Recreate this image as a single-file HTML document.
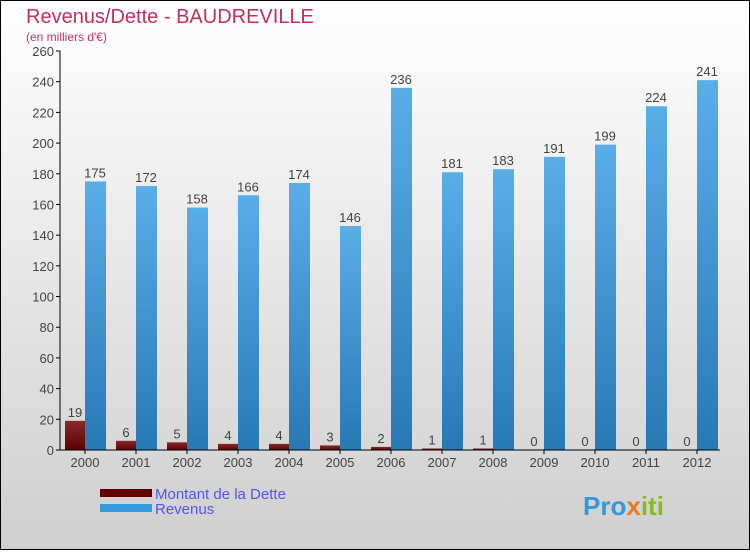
<!DOCTYPE html>
<html><head><meta charset="utf-8"><style>
body{margin:0;width:750px;height:550px;overflow:hidden;font-family:"Liberation Sans",sans-serif}
</style></head><body>
<svg id="c" width="750" height="550" xmlns="http://www.w3.org/2000/svg">
<defs>
<linearGradient id="bg" x1="0" y1="0" x2="0" y2="1"><stop offset="0" stop-color="#ffffff"/><stop offset="1" stop-color="#cfcfcf"/></linearGradient>
<linearGradient id="gb" x1="0" y1="0" x2="0" y2="1"><stop offset="0" stop-color="#5aaee8"/><stop offset="1" stop-color="#2878b4"/></linearGradient>
<linearGradient id="gr" x1="0" y1="0" x2="0" y2="1"><stop offset="0" stop-color="#8a2a2a"/><stop offset="1" stop-color="#5a0000"/></linearGradient>
</defs>
<rect x="0.5" y="0.5" width="749" height="549" fill="url(#bg)" stroke="#000"/>
<text x="26" y="23" font-size="20" fill="#c0305a">Revenus/Dette - BAUDREVILLE</text>
<text x="26" y="41" font-size="12" fill="#c0305a">(en milliers d'€)</text>
<g id="plot"></g>
<rect x="100" y="489" width="52" height="8" fill="#600000"/>
<rect x="100" y="504" width="52" height="8" fill="#3399dd"/>
<text x="155" y="499" font-size="15" fill="#5555ee">Montant de la Dette</text>
<text x="155" y="514" font-size="15" fill="#5555ee">Revenus</text>
<text x="583" y="515" font-size="26" font-weight="bold"><tspan fill="#3399dd">Pro</tspan><tspan fill="#ee7722">x</tspan><tspan fill="#88bb22">iti</tspan></text>
</svg>
<script>
const years=["2000","2001","2002","2003","2004","2005","2006","2007","2008","2009","2010","2011","2012"];
const dette=[19,6,5,4,4,3,2,1,1,0,0,0,0];
const revenus=[175,172,158,166,174,146,236,181,183,191,199,224,241];
const ticks=[0,20,40,60,80,100,120,140,160,180,200,220,240,260];
const NS="http://www.w3.org/2000/svg",g=document.getElementById('plot');
const y=v=>450-v*(399/260), xc=i=>85+i*51;
function mk(t,a){const e=document.createElementNS(NS,t);for(const k in a)e.setAttribute(k,a[k]);g.appendChild(e);return e;}
ticks.forEach(t=>{
 const l=mk('line',{x1:56,x2:60,y1:y(t),y2:y(t),stroke:'#000'});
 
 
 const tx=mk('text',{x:54,y:y(t)+5,'font-size':13,fill:'#444','text-anchor':'end'});tx.textContent=t;
 
 
});
years.forEach((yr,i)=>{
 const c=xc(i);
 const d=mk('rect',{x:c-20,y:y(dette[i]),width:20,height:450-y(dette[i]),fill:'url(#gr)'});
 
 
 const r=mk('rect',{x:c,y:y(revenus[i]),width:21,height:450-y(revenus[i]),fill:'url(#gb)'});
 
 
 const t1=mk('text',{x:c-10,y:y(dette[i])-4,'font-size':13,fill:'#444','text-anchor':'middle'});t1.textContent=dette[i];
 
 
 const t2=mk('text',{x:c+10,y:y(revenus[i])-4,'font-size':13,fill:'#444','text-anchor':'middle'});t2.textContent=revenus[i];
 
 
 const xl=mk('text',{x:c,y:467,'font-size':13,fill:'#444','text-anchor':'middle'});xl.textContent=yr;
 
 
 const xt=mk('line',{x1:c,x2:c,y1:450,y2:454,stroke:'#000'});
 
 
});
const ya=mk('line',{x1:60,x2:60,y1:y(260),y2:450,stroke:'#000'});


const xa=mk('line',{x1:60,x2:720,y1:450,y2:450,stroke:'#000'});


</script>
</body></html>
